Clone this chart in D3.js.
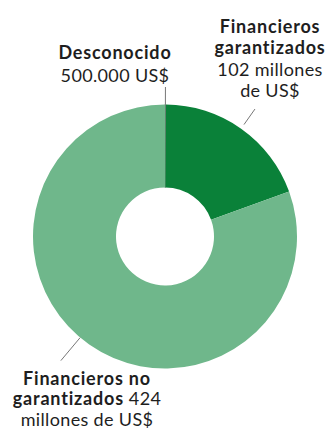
<!DOCTYPE html>
<html><head><meta charset="utf-8">
<script src="https://cdn.jsdelivr.net/npm/d3@7"></script>
<style>
html,body{margin:0;padding:0;background:#fff;}
svg text{font-family:Lato,"Noto Sans",sans-serif;fill:#1e1e1e;}
</style></head>
<body><svg id="chart" width="330" height="433"></svg>
<script>
const categories = ["Desconocido", "Financieros garantizados", "Financieros no garantizados"];
const values = [0.5, 102, 424];
const valueLabels = ["500.000 US$", "102 millones de US$", "424 millones de US$"];
const colors = ["#777777", "#0a8139", "#6fb78b"];

const W = 330, H = 433, cx = 165, cy = 236.5, R = 132, r0 = 49;
const svg = d3.select("#chart");
const g = svg.append("g").attr("transform", `translate(${cx},${cy})`);

const data = categories.map((c, i) => ({cat: c, value: values[i], label: valueLabels[i], color: colors[i]}));
const pie = d3.pie().value(d => d.value).sort(null);
const arcs = pie(data);
const arc = d3.arc().innerRadius(r0).outerRadius(R);

g.selectAll("path").data(arcs).join("path")
  .attr("d", arc)
  .attr("fill", d => d.data.color)
  .attr("stroke", (d, i) => i === 0 ? d.data.color : "none")
  .attr("stroke-width", 0.6);

// leader lines
const leader = [
  {a: null, r1: R, r2: 149.5},
  {a: null, r1: 137, r2: 156},
  {a: 220 * Math.PI / 180, r1: 132, r2: 162}
];
arcs.forEach((d, i) => {
  const a = leader[i].a !== null ? leader[i].a : (d.startAngle + d.endAngle) / 2;
  const p = rr => [Math.sin(a) * rr, -Math.cos(a) * rr];
  const [x1, y1] = p(leader[i].r1), [x2, y2] = p(leader[i].r2);
  g.append("line").attr("x1", x1).attr("y1", y1).attr("x2", x2).attr("y2", y2)
    .attr("stroke", "#777").attr("stroke-width", 1);
});

// labels
const fs = 18;
function label(x, lines) {
  const t = svg.append("text").attr("text-anchor", "middle").attr("font-size", fs);
  lines.forEach(l => {
    const ts = t.append("tspan").attr("x", x).attr("y", l.y);
    l.parts.forEach(p => ts.append("tspan")
      .attr("font-weight", p.b ? 700 : 400)
      .attr("letter-spacing", p.b ? 0.8 : 0.35)
      .text(p.t));
  });
}
label(115, [
  {y: 59, parts: [{t: "Desconocido", b: true}]},
  {y: 82, parts: [{t: valueLabels[0]}]}
]);
const lg = valueLabels[1].split(" ");
label(270, [
  {y: 33, parts: [{t: "Financieros", b: true}]},
  {y: 54, parts: [{t: "garantizados", b: true}]},
  {y: 76, parts: [{t: lg.slice(0, 2).join(" ")}]},
  {y: 97, parts: [{t: lg.slice(2).join(" ")}]}
]);
const ln = valueLabels[2].split(" ");
label(87, [
  {y: 384.5, parts: [{t: "Financieros no", b: true}]},
  {y: 405, parts: [{t: "garantizados", b: true}, {t: " " + ln[0]}]},
  {y: 426, parts: [{t: ln.slice(1).join(" ")}]}
]);
</script></body></html>
